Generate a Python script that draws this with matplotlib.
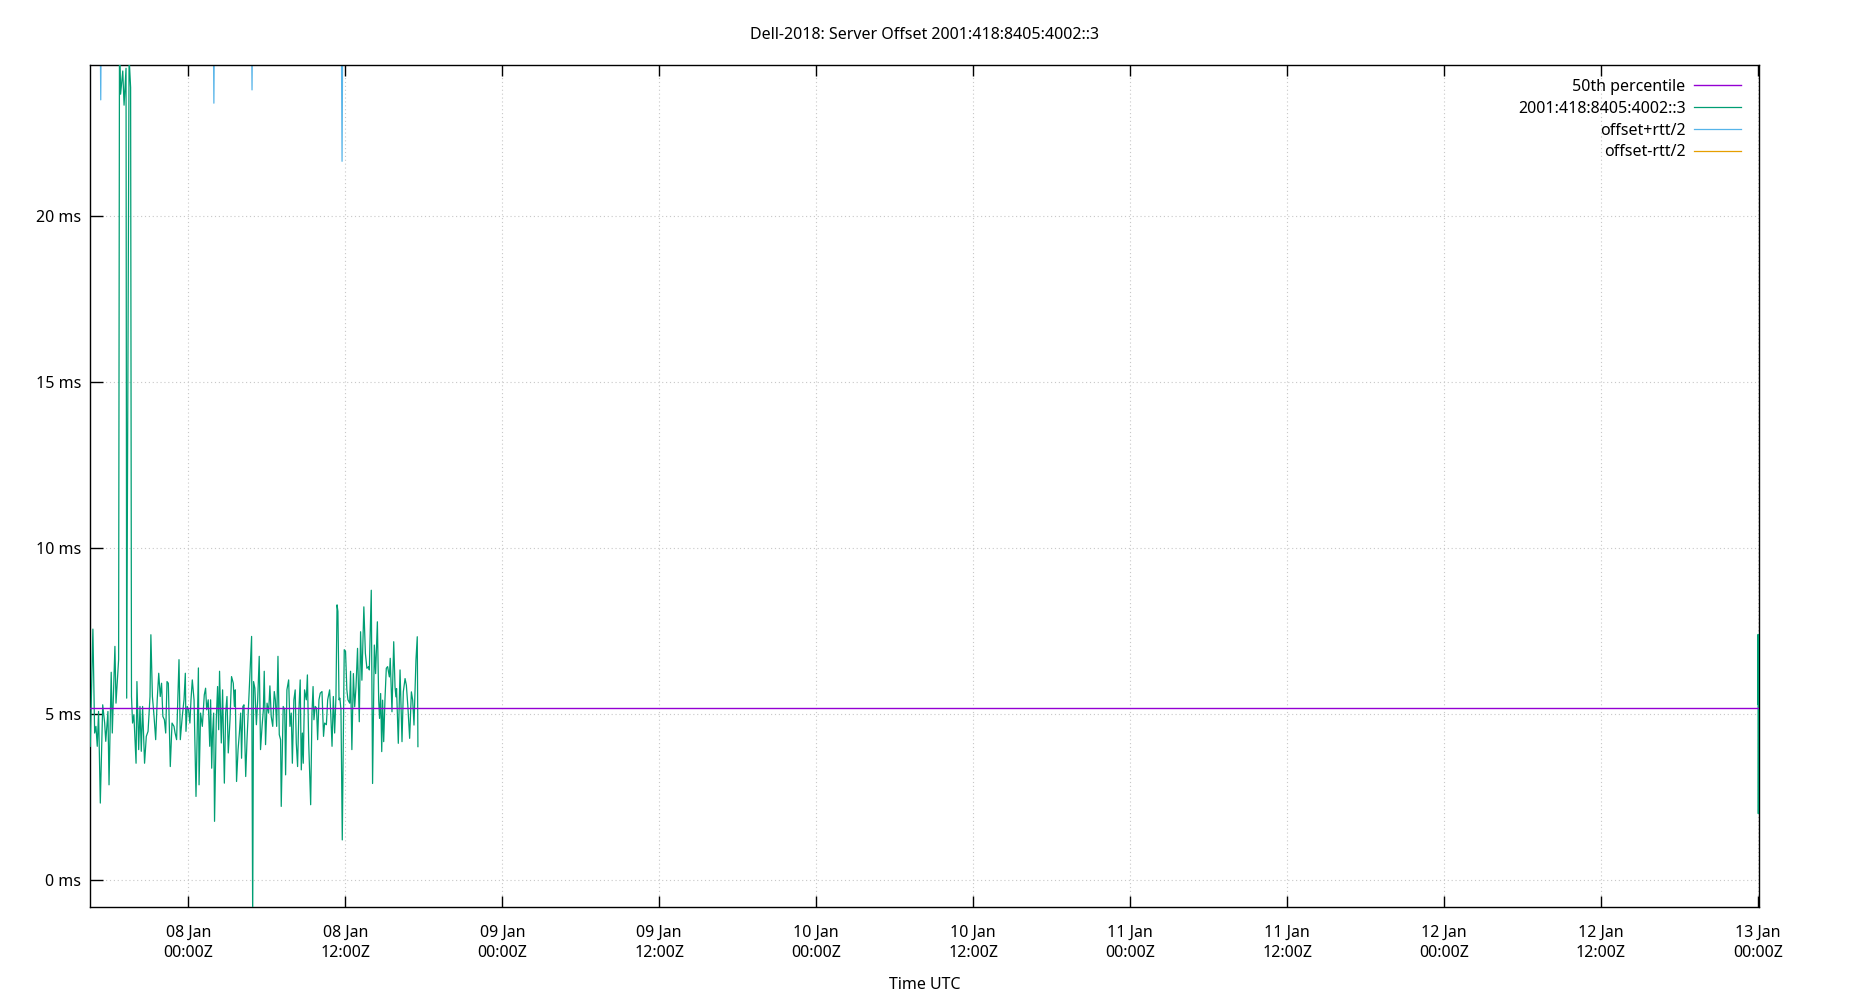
import numpy as np
import matplotlib
matplotlib.use('Agg')
import matplotlib.pyplot as plt
import matplotlib.dates as mdates

plt.rcParams['font.family'] = ['Noto Sans', 'DejaVu Sans']

title = 'Dell-2018: Server Offset 2001:418:8405:4002::3'
host = '2001:418:8405:4002::3'
start = np.datetime64('2019-01-07T16:30')

# offset samples, minutes since start / ms
offset_min = [0, 12, 20, 26, 32, 38, 46, 57, 66, 71, 81, 86, 96, 101, 113, 118, 130, 134, 139, 149,
              155, 164, 167, 178, 185, 189, 194, 200, 210, 214, 222, 228, 234, 240, 249, 257, 265, 274, 278, 285,
              292, 300, 307, 314, 321, 327, 333, 340, 346, 352, 358, 367, 375, 384, 389, 396, 407, 413, 422, 430,
              436, 439, 445, 451, 457, 462, 468, 476, 485, 496, 499, 506, 514, 523, 529, 534, 541, 548, 552, 557,
              561, 566, 570, 578, 584, 589, 593, 601, 607, 615, 621, 627, 633, 641, 648, 656, 661, 665, 671, 678,
              684, 690, 694, 700, 705, 713, 719, 726, 734, 740, 745, 749, 755, 762, 768, 775, 781, 788, 794, 798,
              804, 811, 818, 824, 830, 837, 844, 849, 855, 861, 867, 873, 876, 885, 892, 896, 902, 910, 916, 922,
              927, 934, 940, 945, 951, 957, 963, 968, 973, 977, 983, 991, 996, 1002, 1011, 1017, 1022, 1026, 1032, 1038,
              1043, 1049, 1055, 1063, 1070, 1075, 1083, 1089, 1098, 1103, 1109, 1115, 1121, 1127, 1132, 1136, 1141, 1145, 1150, 1156,
              1165, 1171, 1177, 1182, 1190, 1194, 1200, 1207, 1213, 1219, 1226, 1234, 1240, 1246, 1255, 1262, 1269, 1277, 1280, 1289,
              1295, 1303, 1309, 1317, 1323, 1327, 1332, 1337, 1341, 1346, 1352, 1358, 1364, 1372, 1376, 1384, 1392, 1398, 1402, 1405,
              1413, 1421, 1430, 1436, 1444, 1450, 1457, 1465, 1473, 1479, 1485, 1494, 1500, 1503]
offset_ms = [4.03, 7.56, 4.43, 4.63, 4.03, 5.08, 2.32, 5.28, 4.73, 4.18, 5.08, 2.87, 6.26, 4.43, 7.04, 5.33, 6.64, 25.5, 23.67, 24.37,
             23.34, 24.45, 5.48, 24.8, 23.87, 5.53, 4.73, 4.98, 3.52, 5.98, 3.93, 5.23, 3.88, 5.23, 3.52, 4.33, 4.48, 5.53, 7.39, 5.53,
             4.98, 4.23, 5.43, 6.23, 5.53, 5.93, 4.93, 4.83, 4.43, 5.98, 5.93, 3.42, 4.73, 4.63, 4.43, 4.23, 6.64, 4.23, 4.93, 5.43,
             6.23, 4.48, 5.23, 5.13, 4.73, 5.43, 6.03, 5.43, 2.52, 6.39, 2.87, 5.03, 4.63, 5.58, 5.78, 5.13, 5.43, 4.03, 5.43, 3.37,
             4.43, 5.03, 1.77, 4.83, 5.83, 4.53, 6.29, 4.13, 5.73, 2.92, 5.03, 5.53, 3.83, 4.83, 6.13, 5.93, 5.23, 5.73, 2.97, 3.93,
             4.43, 5.03, 3.67, 5.23, 5.28, 3.12, 4.23, 5.23, 6.44, 7.34, -1.2, 5.98, 5.78, 4.68, 5.43, 6.74, 3.93, 4.63, 5.13, 6.29,
             4.08, 5.33, 5.03, 5.85, 4.93, 4.63, 5.68, 5.43, 4.63, 6.74, 4.38, 4.23, 2.22, 5.23, 5.13, 3.17, 5.73, 6.03, 4.63, 5.03,
             3.52, 5.43, 5.73, 4.13, 3.42, 5.13, 6.03, 3.32, 4.43, 3.52, 5.73, 5.43, 6.18, 4.13, 2.27, 5.03, 5.83, 4.83, 5.23, 5.18,
             4.23, 5.43, 5.63, 5.68, 4.33, 4.73, 4.68, 5.43, 5.73, 5.03, 4.03, 5.53, 4.43, 5.53, 8.29, 8.09, 5.43, 5.48, 5.13, 1.21,
             6.94, 6.89, 5.73, 5.43, 5.33, 6.29, 3.93, 6.22, 5.22, 5.82, 6.98, 4.77, 7.48, 6.02, 8.23, 6.83, 6.38, 6.43, 6.33, 8.73,
             2.91, 7.08, 6.22, 7.78, 5.42, 4.87, 5.62, 3.87, 5.42, 4.17, 5.47, 6.38, 6.43, 6.12, 6.68, 5.07, 7.18, 5.82, 5.52, 5.77,
             4.12, 6.33, 4.17, 5.67, 6.07, 5.87, 5.22, 4.27, 5.67, 5.42, 4.67, 6.63, 7.33, 4.02]

# last few samples just after 13 Jan 00:00
tail_min = [7650, 7651, 7652, 7653, 7654, 7655]
tail_ms = [5.3, 7.4, 2.0, 6.5, 3.0, 5.0]

# offset +/- rtt/2 (mostly outside the plotted range)
plus_min = [0, 44, 48, 52, 563, 567, 571, 738, 742, 746, 1151, 1155, 1159, 1503]
plus_ms = [28.0, 27.0, 23.5, 27.5, 27.0, 23.4, 27.0, 26.8, 23.8, 27.0, 26.5, 21.65, 26.9, 27.5]
minus_ms = [-18.0, -17.2, -15.6, -17.8, -17.5, -15.9, -17.3, -16.9, -15.8, -17.1, -16.6, -14.4, -17.0, -18.2]

p50_ms = 5.18

t = start + np.array(offset_min).astype('timedelta64[m]')
t_tail = start + np.array(tail_min).astype('timedelta64[m]')
t_rtt = start + np.array(plus_min).astype('timedelta64[m]')

fs = 11.5
fig = plt.figure(figsize=(18.5, 10), dpi=100)
ax = fig.add_axes([0.0488, 0.093, 0.902, 0.842])

green = '#009e73'
h_med = ax.axhline(p50_ms, color='#9400d3', lw=1.0, zorder=4, label='50th percentile')
h_off, = ax.plot(t, offset_ms, color=green, lw=0.9, zorder=3, label=host)
ax.plot(t_tail, tail_ms, color=green, lw=0.9, zorder=3)
h_plus, = ax.plot(t_rtt, plus_ms, color='#56b4e9', lw=0.9, zorder=2, label='offset+rtt/2')
h_minus, = ax.plot(t_rtt, minus_ms, color='#e69f00', lw=0.9, zorder=2, label='offset-rtt/2')

ax.set_xlim(t[0], t_tail[-1])
ax.set_ylim(-0.81, 24.55)

ax.xaxis.set_major_locator(mdates.HourLocator(byhour=[0, 12]))
ax.xaxis.set_major_formatter(mdates.DateFormatter('%d %b\n%H:%MZ'))
ax.set_yticks([0, 5, 10, 15, 20])
ax.set_yticklabels([f'{v} ms' for v in [0, 5, 10, 15, 20]])

ax.tick_params(axis='x', direction='in', length=8, width=1, top=True, pad=12.5, labelsize=fs)
ax.tick_params(axis='y', direction='in', length=9, width=1, right=False, pad=6.5, labelsize=fs)
for lab in ax.get_xticklabels():
    lab.set_linespacing(1.35)
for s in ax.spines.values():
    s.set_linewidth(1.0)

ax.grid(True, color='#c8c8c8', linestyle=(0, (1, 2.5)), lw=0.8)
ax.set_axisbelow(True)

ax.set_title(title, fontsize=fs, pad=19)
ax.set_xlabel('Time UTC', fontsize=fs, labelpad=12)

ax.legend(handles=[h_med, h_off, h_plus, h_minus], loc='upper right', frameon=False,
          bbox_to_anchor=(0.9986, 1.0027),
          markerfirst=False, fontsize=fs, handlelength=2.9, handletextpad=0.55,
          labelspacing=0.37, borderaxespad=0.6)

fig.savefig('out.png', dpi=100)
